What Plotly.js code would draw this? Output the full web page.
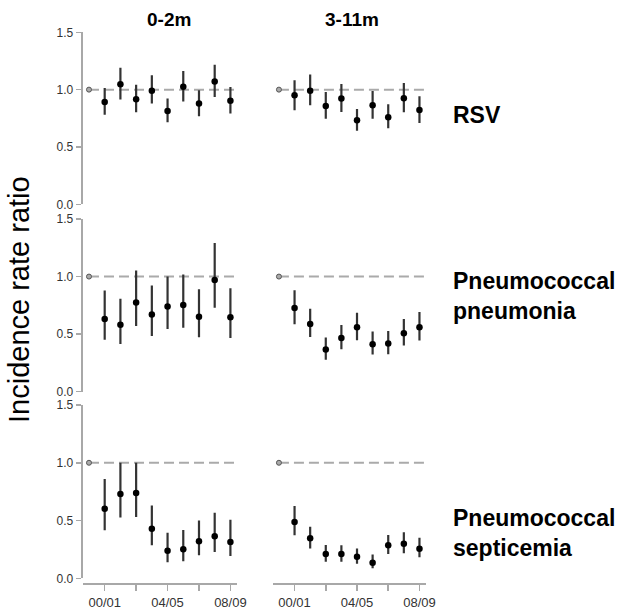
<!DOCTYPE html>
<html>
<head>
<meta charset="utf-8">
<script src="https://cdn.plot.ly/plotly-3.0.1.min.js"></script>
<style>html,body{margin:0;padding:0;background:#fff;}#chart{width:620px;height:613px;}</style>
</head>
<body>
<div id="chart"></div>
<script>
// Seasons (index 0 = reference season)
var seasons = ['99/00','00/01','01/02','02/03','03/04','04/05','05/06','06/07','07/08','08/09'];
var tickSeasons = ['00/01','02/03','04/05','06/07','08/09'];
var tickLabels = ['00/01','','04/05','','08/09'];
var ageGroups = ['0-2m','3-11m'];
var outcomes = [['RSV'],['Pneumococcal','pneumonia'],['Pneumococcal','septicemia']];

// Incidence rate ratios (seasons 00/01 .. 08/09), with lower/upper CI
var rsv02_irr   = [0.893,1.046,0.916,0.991,0.814,1.026,0.878,1.072,0.904];
var rsv02_lo    = [0.780,0.913,0.803,0.878,0.716,0.896,0.768,0.936,0.791];
var rsv02_hi    = [1.014,1.191,1.043,1.125,0.922,1.162,0.994,1.217,1.023];

var rsv311_irr  = [0.951,0.991,0.858,0.922,0.733,0.864,0.759,0.925,0.823];
var rsv311_lo   = [0.820,0.864,0.745,0.806,0.641,0.745,0.664,0.803,0.710];
var rsv311_hi   = [1.081,1.133,0.980,1.049,0.832,0.988,0.872,1.058,0.942];

var pnm02_irr   = [0.631,0.582,0.775,0.671,0.741,0.752,0.651,0.971,0.646];
var pnm02_lo    = [0.452,0.415,0.571,0.484,0.545,0.556,0.473,0.729,0.467];
var pnm02_hi    = [0.879,0.807,1.052,0.922,1.000,1.017,0.890,1.291,0.899];

var pnm311_irr  = [0.726,0.588,0.366,0.467,0.559,0.412,0.418,0.507,0.559];
var pnm311_lo   = [0.585,0.476,0.277,0.369,0.447,0.323,0.326,0.401,0.444];
var pnm311_hi   = [0.882,0.720,0.470,0.579,0.686,0.522,0.527,0.631,0.692];

var sep02_irr   = [0.602,0.729,0.738,0.429,0.239,0.251,0.320,0.363,0.314];
var sep02_lo    = [0.415,0.527,0.530,0.285,0.138,0.147,0.199,0.228,0.193];
var sep02_hi    = [0.859,1.000,1.000,0.631,0.395,0.418,0.501,0.568,0.507];

var sep311_irr  = [0.487,0.346,0.210,0.210,0.187,0.135,0.285,0.300,0.256];
var sep311_lo   = [0.372,0.259,0.144,0.144,0.127,0.086,0.210,0.216,0.182];
var sep311_hi   = [0.625,0.447,0.288,0.285,0.259,0.205,0.375,0.398,0.352];

var refValue = 1.0;

var panels = [
  {irr: rsv02_irr,  lo: rsv02_lo,  hi: rsv02_hi,  row: 0, col: 0},
  {irr: rsv311_irr, lo: rsv311_lo, hi: rsv311_hi, row: 0, col: 1},
  {irr: pnm02_irr,  lo: pnm02_lo,  hi: pnm02_hi,  row: 1, col: 0},
  {irr: pnm311_irr, lo: pnm311_lo, hi: pnm311_hi, row: 1, col: 1},
  {irr: sep02_irr,  lo: sep02_lo,  hi: sep02_hi,  row: 2, col: 0},
  {irr: sep311_irr, lo: sep311_lo, hi: sep311_hi, row: 2, col: 1}
];

var W = 620, H = 613;
function fx(p){ return p / W; }
function fy(p){ return 1 - p / H; }

var colDom = [[fx(82.7), fx(236.7)], [fx(272.7), fx(425.7)]];
var rowPix = [[32.3, 204.3], [219, 391.7], [405, 578.3]];
var xRange = [-0.4, 9.4];
var axisGray = '#a8a8a8';
var FONT = 'Liberation Sans, Arial, Helvetica, sans-serif';

var data = [];
var layout = {
  width: W, height: H,
  margin: {l:0, r:0, t:0, b:0},
  paper_bgcolor: '#fff', plot_bgcolor: 'rgba(0,0,0,0)',
  showlegend: false,
  font: {family: FONT, color: '#333'},
  shapes: [], annotations: []
};

var seasonIdx = seasons.map(function(s, i){ return i; });
var tickIdx = tickSeasons.map(function(s){ return seasons.indexOf(s); });

panels.forEach(function(p, k){
  var n = k + 1;
  var xa = 'x' + (n === 1 ? '' : n), ya = 'y' + (n === 1 ? '' : n);
  var xName = 'xaxis' + (n === 1 ? '' : n), yName = 'yaxis' + (n === 1 ? '' : n);
  var xs = seasonIdx.slice(1);
  data.push({
    type: 'scatter', mode: 'markers', x: xs, y: p.irr, xaxis: xa, yaxis: ya,
    marker: {color: '#000', size: 6.5},
    error_y: {type: 'data', symmetric: false,
      array: p.hi.map(function(h, i){ return h - p.irr[i]; }),
      arrayminus: p.lo.map(function(l, i){ return p.irr[i] - l; }),
      color: '#333', thickness: 2.2, width: 0},
    cliponaxis: false, hoverinfo: 'skip'
  });
  data.push({
    type: 'scatter', mode: 'markers', x: [seasonIdx[0]], y: [refValue], xaxis: xa, yaxis: ya,
    marker: {color: '#aaa', size: 5, line: {color: '#555', width: 1}},
    cliponaxis: false, hoverinfo: 'skip'
  });
  var bottom = p.row === 2;
  var dom = [fy(rowPix[p.row][1]), fy(rowPix[p.row][0])];
  var xaxis = {
    domain: colDom[p.col], range: xRange, fixedrange: true,
    showgrid: false, zeroline: false,
    showline: bottom, linecolor: axisGray, linewidth: 2,
    ticks: bottom ? 'outside' : '', ticklen: 6, tickwidth: 1.5, tickcolor: axisGray,
    showticklabels: bottom,
    tickmode: 'array', tickvals: tickIdx, ticktext: tickLabels,
    tickfont: {family: FONT, size: 13, color: '#333'}
  };
  if (bottom) { xaxis.anchor = 'free'; xaxis.position = fy(584); }
  else { xaxis.anchor = ya; }
  layout[xName] = xaxis;
  var left = p.col === 0;
  layout[yName] = {
    domain: dom, range: [0, 1.5], anchor: xa, fixedrange: true,
    showgrid: false, zeroline: false,
    showline: left, linecolor: axisGray, linewidth: 2,
    ticks: left ? 'outside' : '', ticklen: 5, tickwidth: 1.5, tickcolor: axisGray,
    showticklabels: left, tickvals: [0, 0.5, 1, 1.5], tickformat: '.1f',
    tickfont: {family: FONT, size: 12, color: '#333'}
  };
  layout.shapes.push({
    type: 'line', xref: xa, yref: ya, x0: seasonIdx[0], x1: xRange[1], y0: refValue, y1: refValue,
    line: {color: '#aaaaaa', width: 2, dash: '10px,5px'}, layer: 'below'
  });
});

// column titles
ageGroups.forEach(function(g, c){
  layout.annotations.push({
    xref: 'paper', yref: 'paper', x: (colDom[c][0] + colDom[c][1]) / 2 + (c === 0 ? 0.015 : 0.005), y: fy(19.5),
    text: '<b>' + g + '</b>', showarrow: false, xanchor: 'center', yanchor: 'middle',
    font: {family: FONT, size: 19, color: '#000'}
  });
});

// row labels
var rowCenters = [114.5, 296, 533];
outcomes.forEach(function(lines, r){
  layout.annotations.push({
    xref: 'paper', yref: 'paper', x: fx(451), y: fy(rowCenters[r]),
    text: '<b>' + lines.join('<br>') + '</b>', showarrow: false, xanchor: 'left', yanchor: 'middle',
    align: 'left',
    font: {family: FONT, size: 23, color: '#000'}
  });
});

// y title
layout.annotations.push({
  xref: 'paper', yref: 'paper', x: fx(19), y: fy(300),
  text: 'Incidence rate ratio', showarrow: false, textangle: -90,
  xanchor: 'center', yanchor: 'middle',
  font: {family: FONT, size: 29, color: '#000'}
});

Plotly.newPlot('chart', data, layout, {staticPlot: true, displayModeBar: false});
</script>
</body>
</html>
